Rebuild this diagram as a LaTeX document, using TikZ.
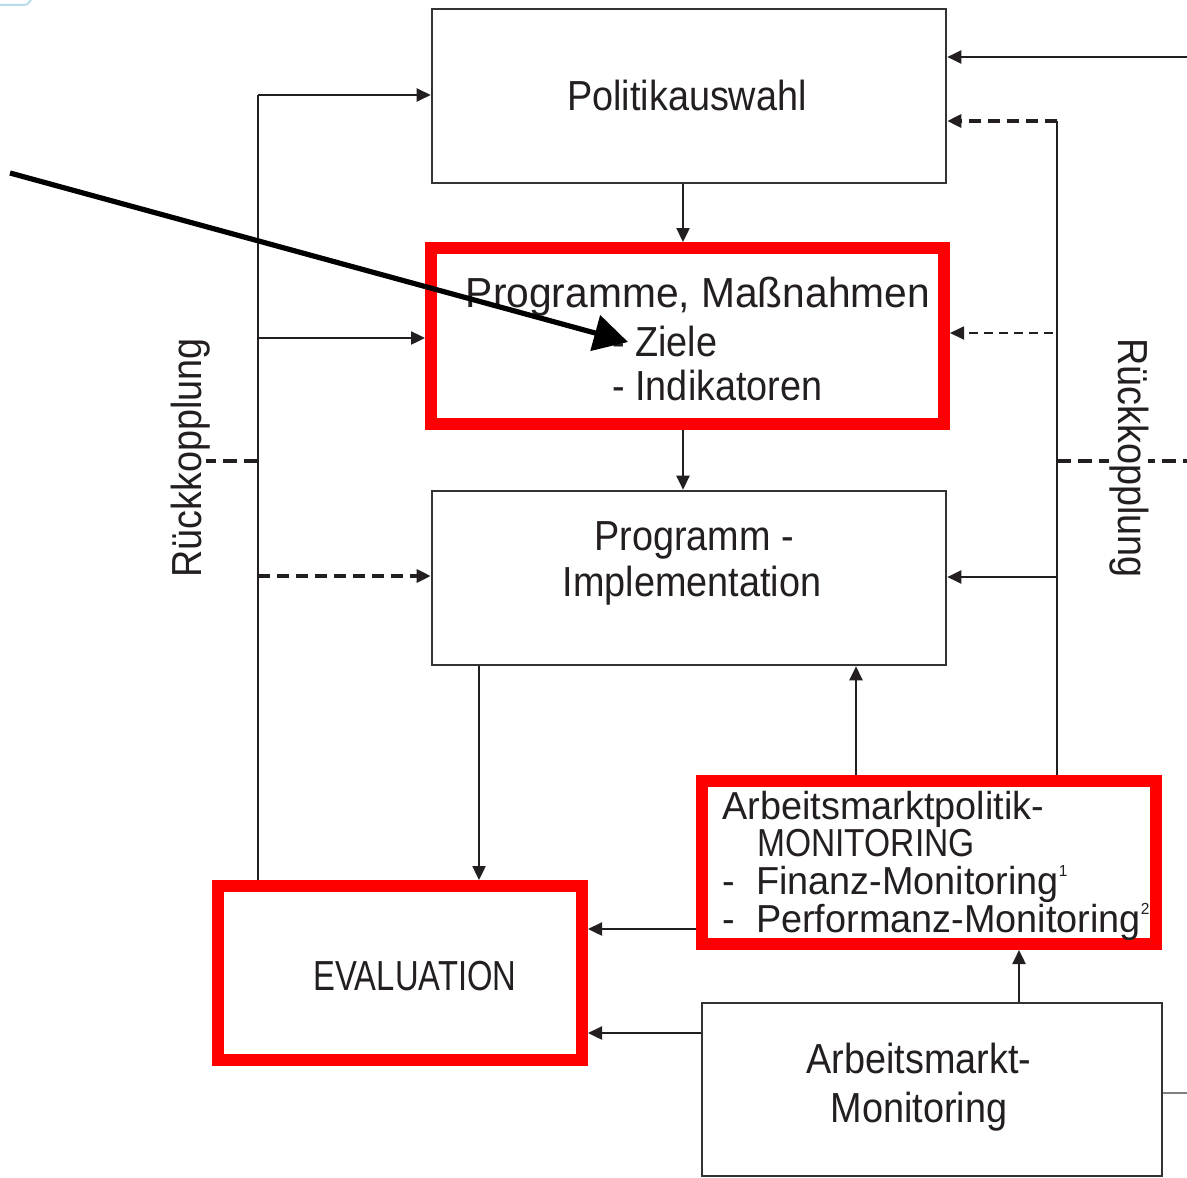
\documentclass[tikz,border=0pt]{standalone}
\usepackage{fontspec}
\usepackage{graphicx}
\setmainfont{Liberation Sans}[FakeStretch=0.9]
\newfontfamily\wfont{Liberation Sans}[FakeStretch=0.97]
\newfontfamily\mfont{Liberation Sans}[FakeStretch=0.97]
\newfontfamily\capfont{Liberation Sans}[FakeStretch=0.86]
\newfontfamily\evfont{Liberation Sans}[FakeStretch=0.78]
\usetikzlibrary{arrows.meta}
\definecolor{ink}{HTML}{231F20}
\definecolor{boxgray}{HTML}{333333}
\definecolor{boxred}{HTML}{FF0000}
\definecolor{faintblue}{HTML}{B8DCEB}
\begin{document}
\begin{tikzpicture}[x=0.5pt,y=-0.5pt,
  ln/.style={draw=ink,line width=1.2pt},
  arr/.style={ln,-{Triangle[length=7pt,width=6.5pt]}},
  arrdash/.style={arr,line width=1.6pt,dash pattern=on 6pt off 3.5pt},
  arrthin/.style={arr,line width=0.9pt,dash pattern=on 4.5pt off 3pt},
  stubdash/.style={ln,line width=1.6pt,dash pattern=on 7pt off 3.5pt},
  bigarr/.style={draw=black,line width=2.6pt,-{Triangle[length=17pt,width=18pt]}},
  plainbox/.style={draw=boxgray,line width=1.3pt,inner sep=0pt,fill=none},
  redbox/.style={draw=boxred,line width=6pt,inner sep=0pt,fill=none},
  txt/.style={text=ink,inner sep=0pt,font=\fontsize{21pt}{25pt}\selectfont},
  txtm/.style={text=ink,inner sep=0pt,font=\fontsize{19.5pt}{23pt}\mfont}]
\useasboundingbox (0,0) rectangle (1187,1177);
\fill[white] (0,0) rectangle (1187,1177);
\draw[faintblue,line width=1pt] (0,5) -- (20,5) .. controls (27,5) .. (31,0);

% boxes
\node[plainbox,minimum width=257pt,minimum height=87pt] (P) at (689,96) {};
\node[redbox,minimum width=256.5pt,minimum height=88pt] (Prog) at (687.5,336) {};
\node[plainbox,minimum width=257pt,minimum height=87pt] (Impl) at (689,578) {};
\node[redbox,minimum width=227pt,minimum height=81.5pt] (AMP) at (929,862.5) {};
\node[redbox,minimum width=182pt,minimum height=87pt] (Ev) at (400,973) {};
\node[plainbox,minimum width=230pt,minimum height=86.5pt] (AM) at (932,1089.5) {};

% texts
\node[txt,anchor=base] (tP) at (687,111) {Politikauswahl};
\node[txt,anchor=base] (tProg1) at (698,307) {\wfont Programme, Maßnahmen};
\node[txt,anchor=base west] (tProg2) at (612,356) {-\ Ziele};
\node[txt,anchor=base west] (tProg3) at (612,400) {-\ Indikatoren};
\node[txt,anchor=base] (tI1) at (694,550) {Programm -};
\node[txt,anchor=base] (tI2) at (692,596) {Implementation};
\node[txtm,anchor=base west] (tA1) at (722,819) {Arbeitsmarktpolitik-};
\node[txtm,anchor=base west] (tA2) at (757,856) {\capfont MONITORING};
\node[txtm,anchor=base west] (tA3) at (722,894) {-\ \ Finanz-Monitoring\raisebox{9pt}{\fontsize{8pt}{8pt}\selectfont 1}};
\node[txtm,anchor=base west] (tA4) at (722,932) {-\ \ Performanz-Monitoring\raisebox{9pt}{\fontsize{8pt}{8pt}\selectfont 2}};
\node[txt,anchor=base] (tE) at (415,990) {\evfont EVALUATION};
\node[txt,anchor=base] (tM1) at (919,1073) {Arbeitsmarkt-};
\node[txt,anchor=base] (tM2) at (919,1122) {Monitoring};

% left feedback bus
\coordinate (LB) at (258,95);
\coordinate (L2) at (258,338);
\coordinate (L3) at (258,576);
\coordinate (L4) at (258,461);
\coordinate (L4e) at (206,461);
\draw[ln] (LB) -- (LB |- Ev.north);
\draw[arr] (LB) -- (LB -| P.west);
\draw[arr] (L2) -- (L2 -| Prog.west);
\draw[arrdash] (L3) -- (L3 -| Impl.west);
\draw[stubdash] (L4) -- (L4e);
\node[txt,rotate=90,anchor=base] (rkL) at (201,458) {Rückkopplung};

% right feedback bus
\coordinate (RB) at (1057,121);
\coordinate (R2) at (1053,333);
\coordinate (R3) at (1057,577);
\coordinate (R4) at (1057,461);
\coordinate (R4e) at (1187,461);
\coordinate (TR) at (1187,57);
\draw[ln] (RB) -- (RB |- AMP.north);
\draw[arrdash] (RB) -- (RB -| P.east);
\draw[arrthin] (R2) -- (R2 -| Prog.east);
\draw[arr] (R3) -- (R3 -| Impl.east);
\draw[stubdash] (R4) -- (R4e);
\draw[arr] (TR) -- (TR -| P.east);
\node[txt,rotate=-90,anchor=base,fill=white] (rkR) at (1118,458) {Rückkopplung};

% main flow
\draw[arr] (P.south -| 683,0) -- (Prog.north -| 683,0);
\draw[arr] (Prog.south -| 683,0) -- (Impl.north -| 683,0);
\draw[arr] (Impl.south -| 479,0) -- (Ev.north -| 479,0);
\draw[arr] (AMP.north -| 856,0) -- (Impl.south -| 856,0);
\draw[arr] (AMP.west |- 0,929) -- (Ev.east |- 0,929);
\draw[arr] (AM.west |- 0,1033) -- (Ev.east |- 0,1033);
\draw[arr] (AM.north -| 1019,0) -- (AMP.south -| 1019,0);
\coordinate (BRe) at (1187,1093);
\draw[draw=gray,line width=1pt] (AM.east |- BRe) -- (BRe);

% big annotation arrow
\coordinate (bigS) at (10,173);
\coordinate (bigT) at (628,342);
\draw[bigarr] (bigS) -- (bigT);
\end{tikzpicture}
\end{document}
